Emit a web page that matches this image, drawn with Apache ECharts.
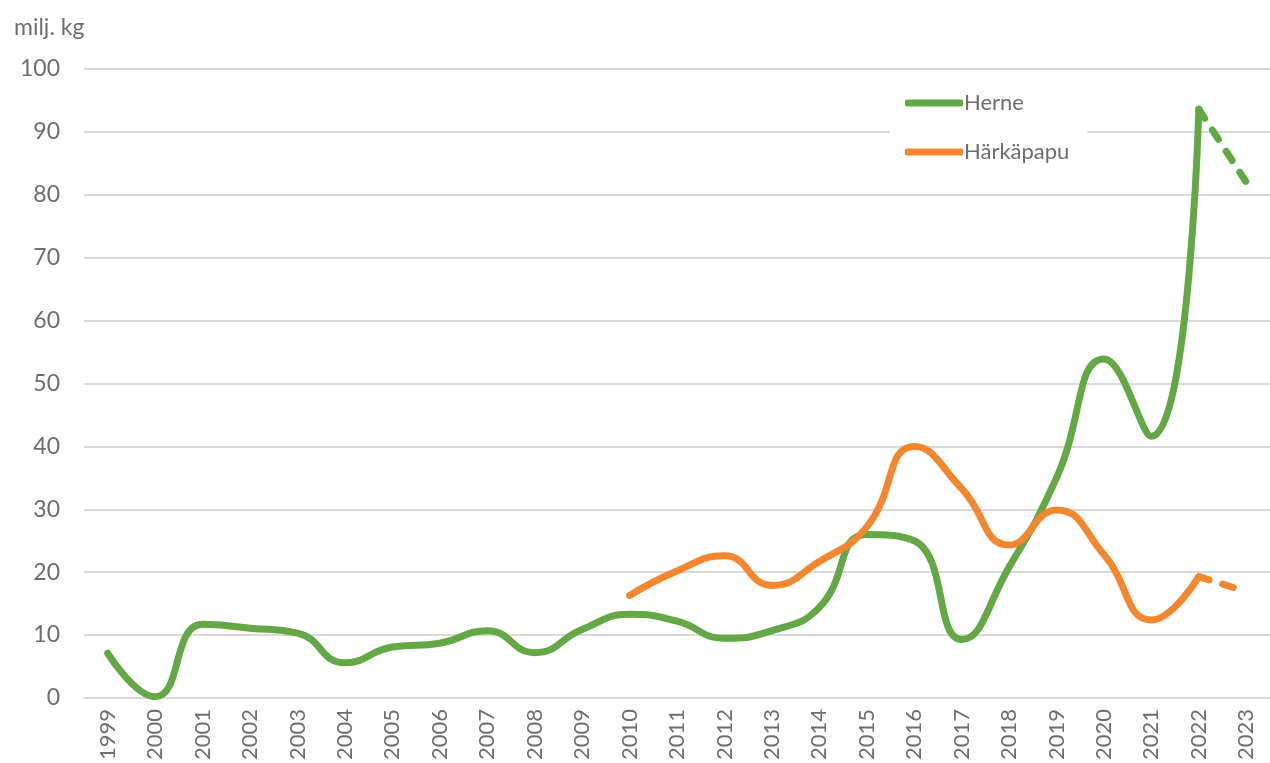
<!DOCTYPE html>
<html>
<head>
	<meta charset="UTF-8">
	<title>Herne ja härkäpapu</title>
	<script src="https://cdn.jsdelivr.net/npm/echarts@6/dist/echarts.min.js"></script>
	<style>
		html, body { margin: 0; padding: 0; background: #fff; }
		#chart { width: 1270px; height: 763px; }
	</style>
</head>
<body>
<div id="chart"></div>
<script type="text/javascript">
	// vuodet ja sadot (milj. kg)
	var years = ['1999','2000','2001','2002','2003','2004','2005','2006','2007','2008','2009','2010',
		'2011','2012','2013','2014','2015','2016','2017','2018','2019','2020','2021','2022','2023'];
	var herne = [7.1, 0.2, 11.7, 11.1, 10.3, 5.6, 8.1, 8.7, 10.7, 7.2, 10.9, 13.3,
		12.2, 9.5, 10.7, 14.4, 26.0, 25.0, 9.3, 20.8, 35.0, 53.9, 41.6, 93.6, 82.0];
	var harkapapu = [null, null, null, null, null, null, null, null, null, null, null, 16.3,
		20.2, 22.6, 17.9, 21.7, 27.2, 40.0, 33.3, 24.3, 29.9, 22.8, 12.4, 19.3, 16.9];
	var yTicks = [0, 10, 20, 30, 40, 50, 60, 70, 80, 90, 100];

	var green = '#63a845';
	var orange = '#f4862f';
	var textGray = '#6e6e6e';
	var lastIdx = years.length - 1;

	// kiinteä osa vuoteen 2022, katkoviiva 2022-2023
	function solidPart(arr) {
		return arr.map(function (v, i) { return i < lastIdx ? v : null; });
	}
	function dashPart(arr) {
		return arr.map(function (v, i) { return i >= lastIdx - 1 ? v : null; });
	}

	function lineSeries(name, data, color, dashed) {
		return {
			name: name,
			type: 'line',
			data: data,
			smooth: 0.5,
			showSymbol: false,
			symbol: 'none',
			connectNulls: false,
			silent: true,
			lineStyle: {
				color: color,
				width: 7,
				cap: 'round',
				join: 'round',
				type: dashed ? [11, 14] : 'solid'
			},
			itemStyle: { color: color }
		};
	}

	var chart = echarts.init(document.getElementById('chart'), null, { renderer: 'canvas' });

	var option = {
		animation: false,
		backgroundColor: '#fff',
		textStyle: { fontFamily: 'Lato, "Open Sans", sans-serif' },
		title: {
			text: 'milj. kg',
			left: 9,
			top: 11,
			textStyle: { fontSize: 23, fontWeight: 'normal', color: textGray, fontFamily: 'Lato' }
		},
		legend: {
			data: ['Herne', 'Härkäpapu'],
			orient: 'vertical',
			left: 890,
			top: 80,
			padding: [12, 18, 12, 15],
			itemGap: 27,
			itemWidth: 58,
			itemHeight: 7,
			icon: 'roundRect',
			backgroundColor: '#fff',
			textStyle: { fontSize: 22, color: textGray, fontFamily: 'Lato', padding: [0, 0, 0, -4] }
		},
		grid: {
			left: 84,
			right: -12,
			top: 69,
			bottom: 63,
			containLabel: false
		},
		xAxis: {
			type: 'category',
			data: years,
			boundaryGap: true,
			axisLine: { show: true, lineStyle: { color: '#d9d9d9', width: 2 } },
			axisTick: { show: false },
			axisLabel: {
				rotate: 90,
				interval: 0,
				margin: 11,
				fontSize: 22,
				color: textGray,
				fontFamily: 'Lato'
			}
		},
		yAxis: {
			type: 'value',
			min: yTicks[0],
			max: yTicks[yTicks.length - 1],
			interval: 10,
			axisLine: { show: false },
			axisTick: { show: false },
			axisLabel: { margin: 24, fontSize: 23, color: textGray, fontFamily: 'Lato' },
			splitLine: { lineStyle: { color: '#d9d9d9', width: 2 } }
		},
		series: [
			lineSeries('Herne', solidPart(herne), green, false),
			lineSeries('Härkäpapu', solidPart(harkapapu), orange, false),
			lineSeries('Herne ennuste', dashPart(herne), green, true),
			lineSeries('Härkäpapu ennuste', dashPart(harkapapu), orange, true)
		]
	};

	chart.setOption(option);
</script>
</body>
</html>
